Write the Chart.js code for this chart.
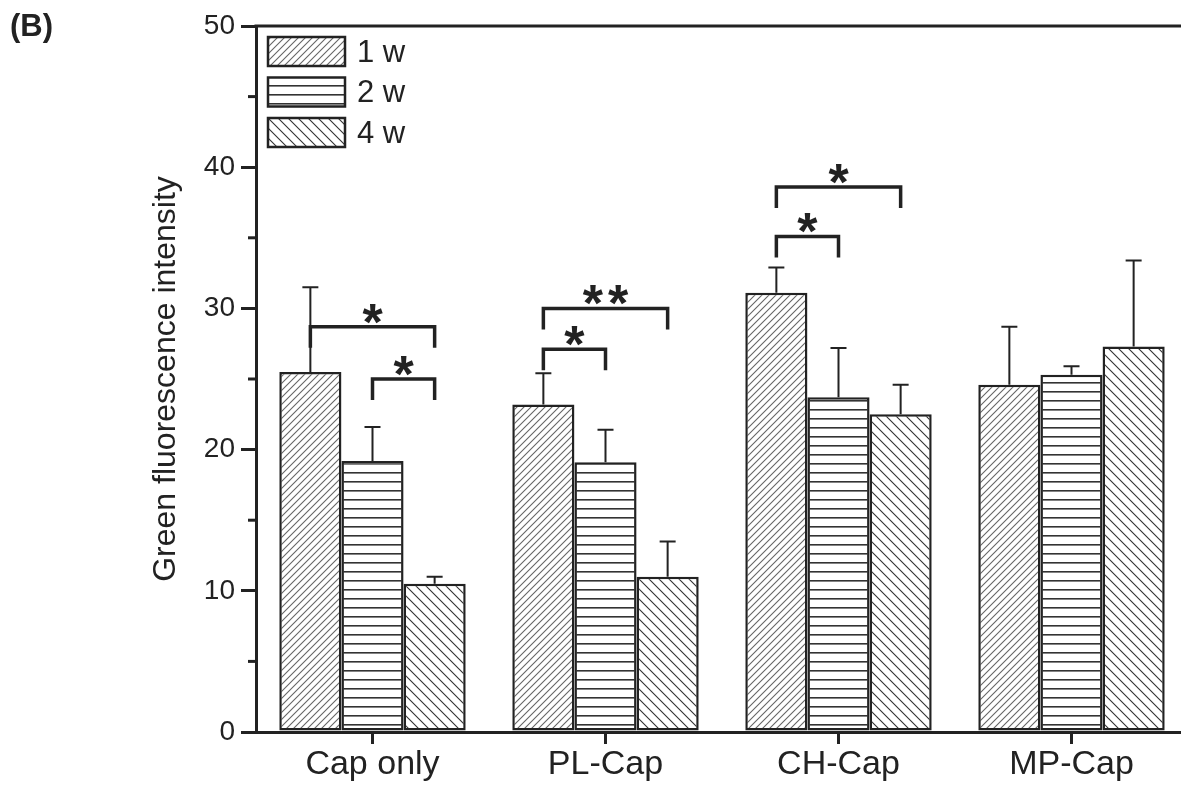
<!DOCTYPE html>
<html>
<head>
<meta charset="utf-8">
<script src="https://cdn.jsdelivr.net/npm/chart.js@4.4.1/dist/chart.umd.min.js"></script>
<style>
  html, body { margin: 0; padding: 0; background: #fff; overflow: hidden; }
  #wrap { position: relative; width: 1190px; height: 785px; }
  #panel { position: absolute; left: 10px; top: 8px; font: bold 31px 'Liberation Sans', Arial, sans-serif; color: #222; }
</style>
</head>
<body>
<div id="wrap">
  <canvas id="chart" width="1190" height="785"></canvas>
  <div id="panel">(B)</div>
</div>
<script>
// data
const CATEGORIES = ['Cap only', 'PL-Cap', 'CH-Cap', 'MP-Cap'];
const SERIES = ['1 w', '2 w', '4 w'];
const MEAN_1W = [25.5, 23.2, 31.1, 24.6];
const MEAN_2W = [19.2, 19.1, 23.7, 25.3];
const MEAN_4W = [10.5, 11.0, 22.5, 27.3];
const SD_1W = [6.0, 2.2, 1.8, 4.1];
const SD_2W = [2.4, 2.3, 3.5, 0.6];
const SD_4W = [0.5, 2.5, 2.1, 6.1];
const Y_TICKS = [0, 10, 20, 30, 40, 50];

// significance brackets: category, series index from/to, bracket level, label
const BRACKETS = [
  { cat: 0, from: 0, to: 2, level: 28.7, label: '*' },
  { cat: 0, from: 1, to: 2, level: 25.0, label: '*' },
  { cat: 1, from: 0, to: 2, level: 30.0, label: '**' },
  { cat: 1, from: 0, to: 1, level: 27.1, label: '*' },
  { cat: 2, from: 0, to: 2, level: 38.6, label: '*' },
  { cat: 2, from: 0, to: 1, level: 35.1, label: '*' },
];

const INK = '#222';
const FONT = "'Liberation Sans', Arial, sans-serif";

function hatch(kind) {
  const size = kind === 'fwd' ? 7 : kind === 'horiz' ? 9 : 10;
  const c = document.createElement('canvas');
  c.width = size; c.height = size;
  const g = c.getContext('2d');
  g.fillStyle = '#fff';
  g.fillRect(0, 0, size, size);
  if (kind === 'horiz') {
    g.fillStyle = '#333';
    g.fillRect(0, 4, size, 1.6);
  } else {
    g.strokeStyle = kind === 'fwd' ? '#666' : '#333';
    g.lineWidth = 1.1;
    g.beginPath();
    if (kind === 'fwd') {
      g.moveTo(-1, size + 1); g.lineTo(size + 1, -1);
      g.moveTo(-1, 1); g.lineTo(1, -1);
      g.moveTo(size - 1, size + 1); g.lineTo(size + 1, size - 1);
    } else {
      g.moveTo(-1, -1); g.lineTo(size + 1, size + 1);
      g.moveTo(size - 1, -1); g.lineTo(size + 1, 1);
      g.moveTo(-1, size - 1); g.lineTo(1, size + 1);
    }
    g.stroke();
  }
  return g.createPattern(c, 'repeat');
}

const ctx = document.getElementById('chart').getContext('2d');
const PATTERNS = [hatch('fwd'), hatch('horiz'), hatch('back')];
const SDS = [SD_1W, SD_2W, SD_4W];

const errorBars = {
  id: 'errorBars',
  afterDatasetsDraw(chart) {
    const g = chart.ctx, y = chart.scales.y;
    g.save();
    g.strokeStyle = INK;
    g.lineWidth = 2;
    chart.data.datasets.forEach((ds, i) => {
      chart.getDatasetMeta(i).data.forEach((bar, j) => {
        const top = y.getPixelForValue(ds.data[j] + SDS[i][j]);
        g.beginPath();
        g.moveTo(bar.x, bar.y);
        g.lineTo(bar.x, top);
        g.moveTo(bar.x - 8, top);
        g.lineTo(bar.x + 8, top);
        g.stroke();
      });
    });
    g.restore();
  }
};

const brackets = {
  id: 'brackets',
  afterDatasetsDraw(chart) {
    const g = chart.ctx, y = chart.scales.y;
    g.save();
    g.strokeStyle = INK;
    g.fillStyle = INK;
    g.lineWidth = 3.5;
    g.textAlign = 'center';
    g.textBaseline = 'alphabetic';
    g.font = 'bold 52px ' + FONT;
    g.letterSpacing = '5px';
    BRACKETS.forEach(b => {
      const x1 = chart.getDatasetMeta(b.from).data[b.cat].x;
      const x2 = chart.getDatasetMeta(b.to).data[b.cat].x;
      const py = y.getPixelForValue(b.level);
      g.beginPath();
      g.moveTo(x1, py + 21);
      g.lineTo(x1, py);
      g.lineTo(x2, py);
      g.lineTo(x2, py + 21);
      g.stroke();
      // letterSpacing adds trailing space, shift half of it back
      g.fillText(b.label, (x1 + x2) / 2 + 2.5, py + 13);
    });
    g.restore();
  }
};

const frame = {
  id: 'frame',
  afterDraw(chart) {
    const g = chart.ctx, a = chart.chartArea, y = chart.scales.y;
    g.save();
    g.strokeStyle = INK;
    g.lineWidth = 3;
    g.beginPath();
    g.moveTo(a.left - 1.5, a.top);
    g.lineTo(a.right, a.top);
    g.lineTo(a.right, a.bottom);
    g.stroke();
    // minor ticks on the y axis
    for (let v = 5; v < 50; v += 10) {
      const py = y.getPixelForValue(v);
      g.beginPath();
      g.moveTo(a.left - 8, py);
      g.lineTo(a.left, py);
      g.stroke();
    }
    g.restore();
  }
};

const legendBox = {
  id: 'legendBox',
  afterDraw(chart) {
    const g = chart.ctx, a = chart.chartArea;
    g.save();
    g.font = '31px ' + FONT;
    g.textBaseline = 'middle';
    g.textAlign = 'left';
    SERIES.forEach((name, i) => {
      const bx = a.left + 12, by = a.top + 11 + i * 40.5;
      g.fillStyle = PATTERNS[i];
      g.fillRect(bx, by, 77, 29);
      g.strokeStyle = INK;
      g.lineWidth = 2.5;
      g.strokeRect(bx, by, 77, 29);
      g.fillStyle = INK;
      g.fillText(name, bx + 89, by + 16);
    });
    g.restore();
  }
};

new Chart(ctx, {
  type: 'bar',
  data: {
    labels: CATEGORIES,
    datasets: [MEAN_1W, MEAN_2W, MEAN_4W].map((d, i) => ({
      label: SERIES[i],
      data: d,
      backgroundColor: PATTERNS[i],
      borderColor: INK,
      borderWidth: 2.5,
      borderSkipped: false,
      categoryPercentage: 0.8,
      barPercentage: 1.0,
    })),
  },
  options: {
    responsive: false,
    animation: false,
    events: [],
    layout: { padding: { top: 26, right: 2, left: 147, bottom: 0 } },
    plugins: { legend: { display: false }, tooltip: { enabled: false } },
    scales: {
      x: {
        grid: { display: true, drawOnChartArea: false, offset: false, tickLength: 12, lineWidth: 3, color: INK },
        border: { display: true, width: 3, color: INK },
        ticks: { color: INK, font: { family: FONT, size: 34 }, padding: 0 },
        afterFit: s => { s.height = 53; },
      },
      y: {
        min: 0,
        max: 50,
        afterBuildTicks: s => { s.ticks = Y_TICKS.map(v => ({ value: v })); },
        grid: { display: true, drawOnChartArea: false, tickLength: 15, lineWidth: 3, color: INK },
        border: { display: true, width: 3, color: INK },
        ticks: { color: INK, font: { family: FONT, size: 28 }, padding: 6 },
        title: { display: true, text: 'Green fluorescence intensity', color: INK, font: { family: FONT, size: 32 }, padding: { top: 0, bottom: 0 } },
        afterFit: s => { s.width = 109; },
      },
    },
  },
  plugins: [errorBars, brackets, frame, legendBox],
});
</script>
</body>
</html>
